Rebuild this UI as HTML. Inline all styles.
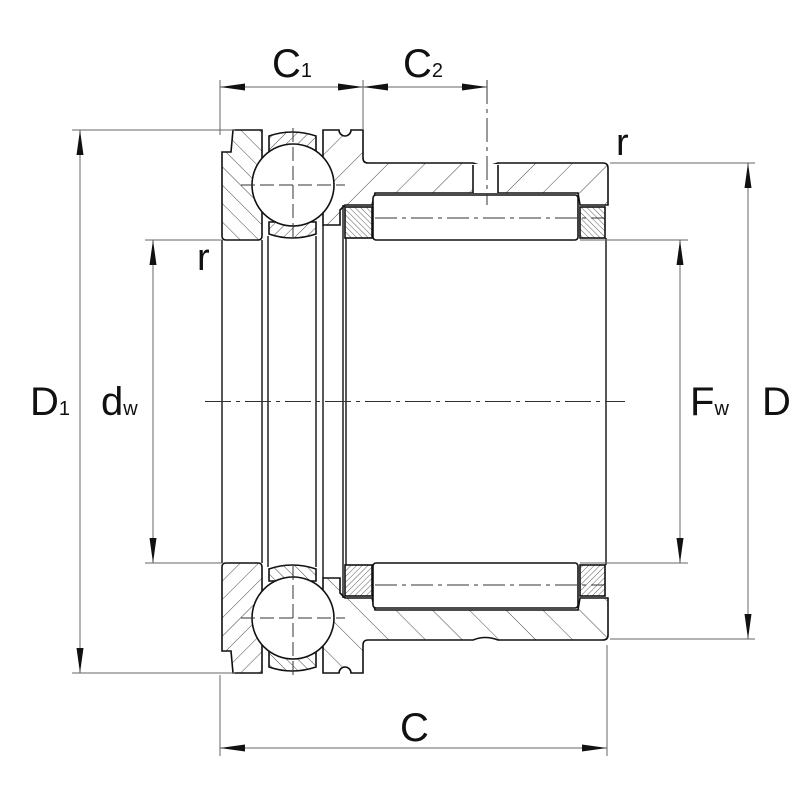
<!DOCTYPE html>
<html><head><meta charset="utf-8"><style>
html,body{margin:0;padding:0;background:#fff}
svg{display:block}
text{font-family:"Liberation Sans",sans-serif;fill:#111}
</style></head><body>
<svg width="800" height="800" viewBox="0 0 800 800" xmlns="http://www.w3.org/2000/svg">
<defs>
<pattern id="hw" patternUnits="userSpaceOnUse" width="26" height="26" patternTransform="rotate(45)"><line x1="0" y1="0" x2="0" y2="26" stroke="#333" stroke-width="0.9"/></pattern>
<pattern id="hb" patternUnits="userSpaceOnUse" width="13" height="13" patternTransform="rotate(-45)"><line x1="0" y1="0" x2="0" y2="13" stroke="#333" stroke-width="0.9"/></pattern>
<pattern id="hs" patternUnits="userSpaceOnUse" width="8" height="8" patternTransform="rotate(45)"><line x1="0" y1="0" x2="0" y2="8" stroke="#333" stroke-width="0.9"/></pattern>
<pattern id="hd" patternUnits="userSpaceOnUse" width="4" height="4" patternTransform="rotate(-45)"><line x1="0" y1="0" x2="0" y2="4" stroke="#333" stroke-width="0.8"/></pattern>
<g id="half" stroke="#111" stroke-width="1.6" fill="none">
  <path d="M233,130 L262,130 L262,236 Q262,240 258,240 L226,240 Q222,240 222,236 L222,152 L231,152 Z" fill="url(#hb)"/>
  <path d="M269,136 Q292,128 316,136 L316,152 L269,152 Z" fill="url(#hs)"/>
  <path d="M269,222 L316,222 L316,234 Q292,242 269,234 Z" fill="url(#hs)"/>
  <path d="M323,130 L339,130 A6,6 0 0 0 351,130 L363,130 L363,158 Q363,163 368,163 L473,163 Q485,168 498,163 L603,163 Q608,163 608,168 L608,205 L580,205 L578,193 L375,193 L372,205 L345,205 L340,210 L340,225 L323,225 Z" fill="url(#hw)"/>
  <rect x="345" y="207" width="27" height="31" fill="url(#hd)"/>
  <rect x="580" y="207" width="25" height="31" fill="url(#hd)"/>
  <rect x="373" y="195" width="205" height="45" rx="3" fill="#fff"/>
  <circle cx="293" cy="185" r="41" fill="#fff"/>
  <g stroke-width="1" stroke="#333" stroke-dasharray="14,5">
    <line x1="293" y1="128" x2="293" y2="240"/>
    <line x1="241" y1="185" x2="345" y2="185"/>
  </g>
  <line x1="375" y1="218" x2="605" y2="218" stroke-width="1" stroke="#333" stroke-dasharray="22,5,4,5"/>
</g>
</defs>
<use href="#half"/>
<use href="#half" transform="translate(0,803) scale(1,-1)"/>
<!-- lubrication hole (top only) -->
<rect x="473" y="164" width="25" height="29" fill="#fff"/>
<g stroke="#111" stroke-width="1.6"><line x1="473" y1="165" x2="473" y2="193"/><line x1="498" y1="165" x2="498" y2="193"/></g>
<g stroke="#111" stroke-width="1.4">
  <line x1="262" y1="240" x2="262" y2="563"/>
  <line x1="268" y1="236" x2="268" y2="567"/>
  <line x1="316" y1="236" x2="316" y2="567"/>
  <line x1="323" y1="225" x2="323" y2="578"/>
  <line x1="343" y1="205" x2="343" y2="598"/>
  <line x1="346" y1="238" x2="346" y2="565"/>
  <line x1="606" y1="238" x2="606" y2="565"/>
  <line x1="222" y1="240" x2="222" y2="563"/>
</g>
<line x1="205" y1="401.5" x2="625" y2="401.5" stroke="#333" stroke-width="1" stroke-dasharray="26,5,4,5"/>
<line x1="487" y1="80" x2="487" y2="205" stroke="#333" stroke-width="1" stroke-dasharray="24,5,4,5"/>
<g stroke="#666" stroke-width="1">
  <line x1="220" y1="80" x2="220" y2="135"/><line x1="363" y1="80" x2="363" y2="130"/>
  <line x1="220" y1="87" x2="487" y2="87"/>
  <line x1="72" y1="130" x2="235" y2="130"/><line x1="72" y1="673" x2="235" y2="673"/>
  <line x1="80" y1="130" x2="80" y2="673"/>
  <line x1="145" y1="240" x2="222" y2="240"/><line x1="145" y1="563" x2="222" y2="563"/>
  <line x1="153" y1="240" x2="153" y2="563"/>
  <line x1="580" y1="240" x2="688" y2="240"/><line x1="580" y1="563" x2="688" y2="563"/>
  <line x1="680" y1="240" x2="680" y2="563"/>
  <line x1="610" y1="163" x2="755" y2="163"/><line x1="610" y1="639" x2="755" y2="639"/>
  <line x1="748" y1="163" x2="748" y2="639"/>
  <line x1="220" y1="675" x2="220" y2="756"/><line x1="607" y1="645" x2="607" y2="756"/>
  <line x1="220" y1="748" x2="607" y2="748"/>
</g>
<g fill="#111">
  <path d="M220,87 l25,-3.5 v7z"/><path d="M363,87 l-25,-3.5 v7z"/>
  <path d="M363,87 l25,-3.5 v7z"/><path d="M487,87 l-25,-3.5 v7z"/>
  <path d="M80,130 l-3.5,25 h7z"/><path d="M80,673 l-3.5,-25 h7z"/>
  <path d="M153,240 l-3.5,25 h7z"/><path d="M153,563 l-3.5,-25 h7z"/>
  <path d="M680,240 l-3.5,25 h7z"/><path d="M680,563 l-3.5,-25 h7z"/>
  <path d="M748,163 l-3.5,25 h7z"/><path d="M748,639 l-3.5,-25 h7z"/>
  <path d="M220,748 l25,-3.5 v7z"/><path d="M607,748 l-25,-3.5 v7z"/>
</g>
<text x="272" y="77" font-size="40">C<tspan font-size="20">1</tspan></text>
<text x="403" y="77" font-size="40">C<tspan font-size="20">2</tspan></text>
<text x="30" y="415" font-size="40">D<tspan font-size="20">1</tspan></text>
<text x="101" y="415" font-size="40">d<tspan font-size="20">w</tspan></text>
<text x="690" y="415" font-size="40">F<tspan font-size="20">w</tspan></text>
<text x="762" y="415" font-size="40">D</text>
<text x="400" y="741" font-size="40">C</text>
<text x="616" y="155" font-size="38">r</text>
<text x="197" y="270" font-size="38">r</text>
</svg>
</body></html>
